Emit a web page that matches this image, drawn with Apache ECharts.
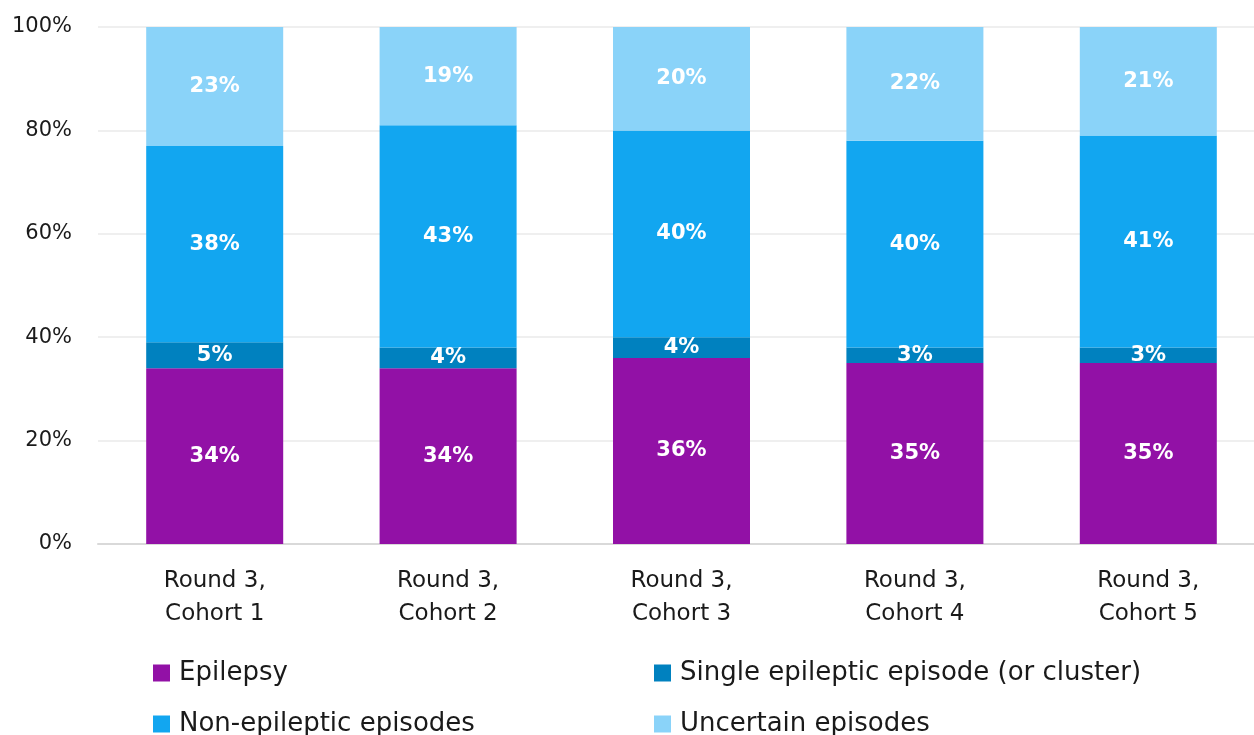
<!DOCTYPE html>
<html>
<head>
<meta charset="utf-8">
<script src="https://cdn.jsdelivr.net/npm/echarts@6/dist/echarts.min.js"></script>
<style>
  html, body { margin: 0; padding: 0; background: #ffffff; overflow: hidden; }
  #chart { width: 1254px; height: 735px; }
</style>
</head>
<body>
<div id="chart"></div>
<script>
// Share of episode types per cohort (percent)
const categories = ['Round 3,\nCohort 1', 'Round 3,\nCohort 2', 'Round 3,\nCohort 3', 'Round 3,\nCohort 4', 'Round 3,\nCohort 5'];
const epilepsy = [34, 34, 36, 35, 35];
const singleEpisode = [5, 4, 4, 3, 3];
const nonEpileptic = [38, 43, 40, 40, 41];
const uncertain = [23, 19, 20, 22, 21];
const seriesNames = ['Epilepsy', 'Single epileptic episode (or cluster)', 'Non-epileptic episodes', 'Uncertain episodes'];
const yTicks = [0, 20, 40, 60, 80, 100];

const FONT = 'DejaVu Sans';
const colors = ['#9211A6', '#0081BF', '#12A6F0', '#8AD3F9'];
const seriesData = [epilepsy, singleEpisode, nonEpileptic, uncertain];

const chart = echarts.init(document.getElementById('chart'), null, { renderer: 'canvas' });

const series = seriesNames.map((name, i) => ({
  name: name,
  type: 'bar',
  stack: 'total',
  barWidth: '58.7%',
  data: seriesData[i],
  itemStyle: { color: colors[i] },
  label: {
    show: true,
    position: 'inside',
    formatter: p => p.value + '%',
    color: '#ffffff',
    fontFamily: FONT,
    fontWeight: 'bold',
    fontSize: 21
  }
}));

// Legend laid out as a 2x2 block
const legendPos = [
  { left: 153, top: 660 },
  { left: 654, top: 660 },
  { left: 153, top: 711 },
  { left: 654, top: 711 }
];
const legends = seriesNames.map((name, i) => ({
  data: [name],
  left: legendPos[i].left,
  top: legendPos[i].top,
  padding: 0,
  orient: 'horizontal',
  icon: 'rect',
  itemWidth: 17,
  itemHeight: 17,
  itemGap: 0,
  selectedMode: false,
  textStyle: { fontFamily: FONT, fontSize: 26, color: '#1a1a1a', padding: [0, 0, 0, 4] }
}));

chart.setOption({
  animation: false,
  color: colors,
  legend: legends,
  // plot area runs a little past the right edge of the canvas
  grid: { left: 98, top: 27, width: 1167, height: 517, containLabel: false, outerBoundsMode: 'none' },
  xAxis: {
    type: 'category',
    data: categories,
    axisTick: { show: false },
    axisLine: { lineStyle: { color: '#d9d9d9', width: 2 } },
    axisLabel: {
      color: '#1a1a1a',
      fontFamily: FONT,
      fontSize: 23,
      lineHeight: 33,
      margin: 21
    }
  },
  yAxis: {
    type: 'value',
    min: yTicks[0],
    max: yTicks[yTicks.length - 1],
    interval: yTicks[1] - yTicks[0],
    axisLine: { show: false },
    axisTick: { show: false },
    splitLine: { lineStyle: { color: '#efefef', width: 2 } },
    axisLabel: {
      formatter: v => v + '%',
      color: '#1a1a1a',
      fontFamily: FONT,
      fontSize: 21,
      margin: 26
    }
  },
  series: series
});
</script>
</body>
</html>
